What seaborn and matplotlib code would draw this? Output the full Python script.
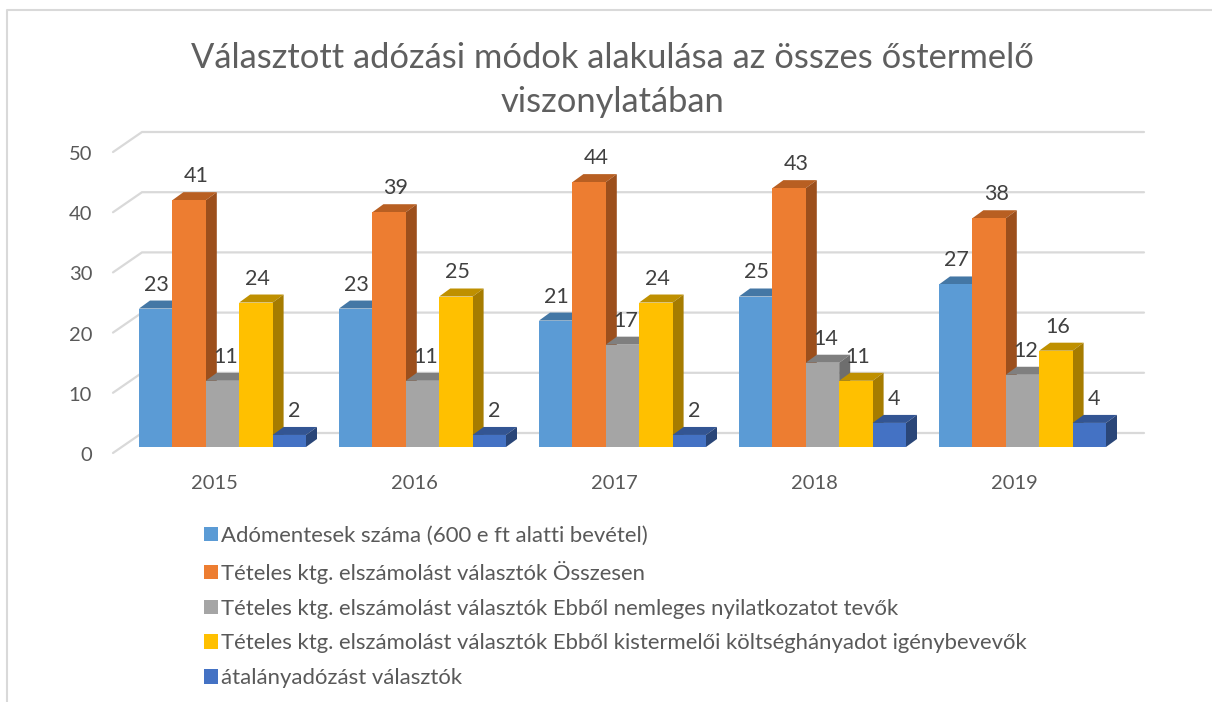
import pandas as pd
import seaborn as sns
import matplotlib.pyplot as plt
from matplotlib.patches import Polygon
from matplotlib.transforms import ScaledTranslation

years = ['2015', '2016', '2017', '2018', '2019']
series_names = [
    'Adómentesek száma (600 e ft alatti bevétel)',
    'Tételes ktg. elszámolást választók Összesen',
    'Tételes ktg. elszámolást választók Ebből nemleges nyilatkozatot tevők',
    'Tételes ktg. elszámolást választók Ebből kistermelői költséghányadot igénybevevők',
    'átalányadózást választók',
]
adomentes = [23, 23, 21, 25, 27]
teteles = [41, 39, 44, 43, 38]
nemleges = [11, 11, 17, 14, 12]
kistermeloi = [24, 25, 24, 11, 16]
atalany = [2, 2, 2, 4, 4]

front_colors = ['#5B9BD5', '#ED7D31', '#A5A5A5', '#FFC000', '#4472C4']
top_colors = ['#4477A5', '#B85F22', '#7F7F7F', '#BF9000', '#335593']
side_colors = ['#3E6C96', '#9C4F1C', '#6E6E6E', '#A67C00', '#2A4678']
label_shift = [1, 7, 3, 2, 5]

rows = []
for name, vals in zip(series_names, [adomentes, teteles, nemleges, kistermeloi, atalany]):
    for yr, v in zip(years, vals):
        rows.append({'year': yr, 'series': name, 'value': v})
df = pd.DataFrame(rows)

sns.set_style('white')
plt.rcParams['font.family'] = ['Lato', 'DejaVu Sans']

W, H = 1212, 702
fig = plt.figure(figsize=(W / 100, H / 100), dpi=100)
ax = fig.add_axes([113 / W, 1 - 447 / H, (1144 - 113) / W, (447 - 146) / H])

sns.barplot(data=df, x='year', y='value', hue='series', hue_order=series_names,
            palette=front_colors, saturation=1, width=0.835, gap=0, ax=ax, linewidth=0)

ax.set_xlim(-0.5475, 4.6075)
ax.set_ylim(0, 50)
sns.despine(ax=ax, left=True, bottom=True)
ax.set_xlabel('')
ax.set_ylabel('')

# one pixel in data units
px_x = 1 / 200
px_y = 50 / 301

# fake 3d walls: gridlines on the back plane, short diagonals to the front
x_front, x_back, x_end = -0.5475, -0.5475 + 29 * px_x, 4.6075
for v in [0, 10, 20, 30, 40, 50]:
    y_front = v - 6 * px_y
    y_back = v + 14 * px_y
    ax.plot([x_front, x_back, x_end], [y_front, y_back, y_back], color='#D9D9D9',
            lw=1.6, zorder=0, clip_on=False, solid_joinstyle='miter')

# bar depth, later series sit on top of the earlier ones
dx = 11 * px_x
dy = 8 * px_y
for i, cont in enumerate(ax.containers):
    for bar in cont:
        x0 = bar.get_x()
        x1 = x0 + bar.get_width()
        h = bar.get_height()
        bar.set_zorder(3 + i * 2 + 0.5)
        ax.add_patch(Polygon([(x0, h), (x1, h), (x1 + dx, h + dy), (x0 + dx, h + dy)],
                             color=top_colors[i], lw=0, zorder=3 + i * 2, clip_on=False))
        ax.add_patch(Polygon([(x1, 0), (x1 + dx, dy), (x1 + dx, h + dy), (x1, h)],
                             color=side_colors[i], lw=0, zorder=3 + i * 2, clip_on=False))
        ax.annotate(str(int(h)), ((x0 + x1) / 2, h), xytext=(label_shift[i], 24),
                    textcoords='offset pixels', ha='center', va='center',
                    fontsize=15.5, color='#404040', zorder=20, annotation_clip=False)

ax.set_xticks([i - 0.042 for i in range(len(years))], years)
ax.set_yticks([0, 10, 20, 30, 40, 50])
ax.tick_params(axis='x', length=0, pad=20.5, labelsize=14.5, labelcolor='#595959')
ax.tick_params(axis='y', length=0, pad=15, labelsize=14.5, labelcolor='#595959')
for lab in ax.get_yticklabels():
    lab.set_transform(lab.get_transform() + ScaledTranslation(0, -5 / 72, fig.dpi_scale_trans))

fig.text(612 / W, 1 - 58 / H, 'Választott adózási módok alakulása az összes őstermelő',
         ha='center', va='center', fontsize=24.8, color='#5F5F5F')
fig.text(612 / W, 1 - 102 / H, 'viszonylatában',
         ha='center', va='center', fontsize=24.8, color='#5F5F5F')

sns.move_legend(ax, loc='upper left', bbox_to_anchor=(204 / W, 1 - 526 / H),
                bbox_transform=fig.transFigure, frameon=False, title=None,
                fontsize=15.9, labelspacing=0.67, handlelength=0.63, handleheight=0.63,
                handletextpad=0.15, borderpad=0, borderaxespad=0, labelcolor='#595959')

# chart frame cut off by the screenshot
fig.add_artist(plt.Line2D([7 / W, 7 / W, 1], [0, 1 - 10 / H, 1 - 10 / H],
                          color='#D9D9D9', lw=1.5, transform=fig.transFigure))

fig.savefig('out.png', dpi=100)
